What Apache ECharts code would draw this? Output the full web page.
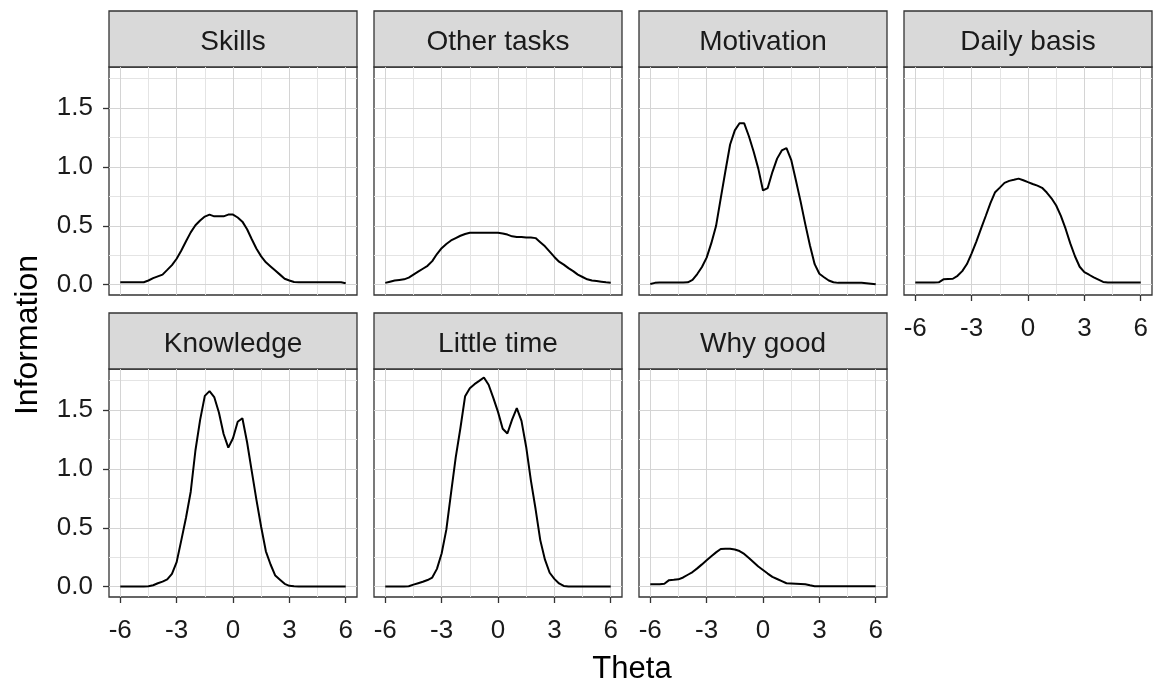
<!DOCTYPE html>
<html>
<head>
<meta charset="utf-8">
<title>Item information by theta</title>
<script src="https://cdn.jsdelivr.net/npm/echarts@6/dist/echarts.min.js"></script>
<style>
  html, body { margin: 0; padding: 0; background: #fff; }
  #chart { width: 1155px; height: 685px; }
</style>
</head>
<body>
<div id="chart"></div>
<script>
// theta grid shared by every panel
const theta = [
  -6, -5.75, -5.5, -5.25, -5, -4.75, -4.5, -4.25, -4, -3.75, -3.5, -3.25,
  -3, -2.75, -2.5, -2.25, -2, -1.75, -1.5, -1.25, -1, -0.75, -0.5, -0.25,
  0, 0.25, 0.5, 0.75, 1, 1.25, 1.5, 1.75, 2, 2.25, 2.5, 2.75,
  3, 3.25, 3.5, 3.75, 4, 4.25, 4.5, 4.75, 5, 5.25, 5.5, 5.75, 6,
]

const skills = [
  0.02, 0.02, 0.02, 0.02, 0.02, 0.02, 0.035, 0.055, 0.07, 0.085, 0.125, 0.166,
  0.22, 0.29, 0.368, 0.444, 0.504, 0.545, 0.578, 0.595, 0.58, 0.58, 0.58, 0.595,
  0.595, 0.57, 0.535, 0.47, 0.385, 0.305, 0.24, 0.19, 0.155, 0.12, 0.085, 0.05,
  0.035, 0.022, 0.02, 0.02, 0.02, 0.02, 0.02, 0.02, 0.02, 0.02, 0.02, 0.02, 0.012,
]
const otherTasks = [
  0.015, 0.025, 0.035, 0.04, 0.045, 0.06, 0.085, 0.11, 0.135, 0.16, 0.2, 0.26,
  0.31, 0.345, 0.375, 0.395, 0.415, 0.43, 0.44, 0.44, 0.44, 0.44, 0.44, 0.44,
  0.44, 0.435, 0.425, 0.41, 0.405, 0.405, 0.4, 0.4, 0.395, 0.36, 0.325, 0.28,
  0.235, 0.195, 0.17, 0.14, 0.115, 0.085, 0.065, 0.045, 0.035, 0.03, 0.025, 0.02, 0.017,
]
const motivation = [
  0.005, 0.015, 0.018, 0.018, 0.018, 0.018, 0.018, 0.018, 0.02, 0.04, 0.09, 0.15,
  0.229, 0.352, 0.497, 0.733, 0.965, 1.19, 1.31, 1.37, 1.37, 1.26, 1.13, 0.985,
  0.8, 0.82, 0.956, 1.07, 1.14, 1.16, 1.06, 0.886, 0.707, 0.514, 0.333, 0.174,
  0.092, 0.063, 0.035, 0.02, 0.015, 0.015, 0.015, 0.015, 0.015, 0.015, 0.012, 0.008, 0.003,
]
const dailyBasis = [
  0.018, 0.018, 0.018, 0.018, 0.018, 0.02, 0.045, 0.048, 0.05, 0.075, 0.115, 0.175,
  0.266, 0.366, 0.475, 0.583, 0.692, 0.785, 0.824, 0.864, 0.881, 0.89, 0.9, 0.886,
  0.87, 0.855, 0.841, 0.822, 0.782, 0.733, 0.672, 0.584, 0.475, 0.35, 0.241, 0.152,
  0.106, 0.084, 0.061, 0.042, 0.023, 0.018, 0.018, 0.018, 0.018, 0.018, 0.018, 0.018, 0.018,
]
const knowledge = [
  0.002, 0.002, 0.002, 0.002, 0.002, 0.002, 0.003, 0.012, 0.029, 0.043, 0.062, 0.109,
  0.208, 0.395, 0.587, 0.806, 1.156, 1.416, 1.62, 1.66, 1.61, 1.479, 1.296, 1.18,
  1.26, 1.4, 1.43, 1.226, 0.979, 0.735, 0.506, 0.3, 0.188, 0.094, 0.059, 0.024,
  0.007, 0.003, 0.002, 0.002, 0.002, 0.002, 0.002, 0.002, 0.002, 0.002, 0.002, 0.002, 0.002,
]
const littleTime = [
  0.002, 0.002, 0.002, 0.002, 0.002, 0.003, 0.017, 0.029, 0.041, 0.056, 0.077, 0.151,
  0.281, 0.484, 0.794, 1.097, 1.347, 1.617, 1.685, 1.719, 1.747, 1.776, 1.714, 1.603,
  1.484, 1.34, 1.3, 1.418, 1.516, 1.407, 1.186, 0.903, 0.659, 0.395, 0.229, 0.118,
  0.066, 0.027, 0.006, 0.002, 0.002, 0.002, 0.002, 0.002, 0.002, 0.002, 0.002, 0.002, 0.002,
]
const whyGood = [
  0.02, 0.02, 0.02, 0.025, 0.055, 0.058, 0.062, 0.078, 0.101, 0.124, 0.155, 0.189,
  0.224, 0.258, 0.291, 0.32, 0.322, 0.322, 0.315, 0.302, 0.278, 0.243, 0.207, 0.171,
  0.141, 0.111, 0.083, 0.065, 0.047, 0.029, 0.027, 0.025, 0.023, 0.021, 0.011, 0.004,
  0.004, 0.004, 0.004, 0.004, 0.004, 0.004, 0.004, 0.004, 0.004, 0.004, 0.004, 0.004, 0.004,
]

const panelNames = ['Skills', 'Other tasks', 'Motivation', 'Daily basis', 'Knowledge', 'Little time', 'Why good']
const panelValues = [skills, otherTasks, motivation, dailyBasis, knowledge, littleTime, whyGood]

const xTicks = [-6, -3, 0, 3, 6]
const xMinor = [-4.5, -1.5, 1.5, 4.5]
const yTicks = [0, 0.5, 1.0, 1.5]
const yMinor = [0.25, 0.75, 1.25, 1.75]

// layout (pixels)
const colLeft = [109, 374, 639, 904]
const rowTop = [11, 313]
const panelW = 248
const stripH = 56
const plotH = 228

const font = "'Liberation Sans', Arial, sans-serif"
const dark = '#333333'

const panelPos = i => {
  const row = i < 4 ? 0 : 1
  const col = i < 4 ? i : i - 4
  return { row, col, left: colLeft[col], top: rowTop[row] }
}

// x axis shown under the bottom row and under the lone panel at row 1 col 4
const hasXAxis = i => i >= 4 || i === 3
const hasYAxis = i => panelPos(i).col === 0

const majorLine = { color: '#d4d4d4', width: 1, type: 'solid' }
const minorLine = { color: '#e4e4e4', width: 1, type: 'solid' }

const gridLines = [
  ...xMinor.map(v => ({ xAxis: v, lineStyle: minorLine })),
  ...yMinor.map(v => ({ yAxis: v, lineStyle: minorLine })),
  ...xTicks.map(v => ({ xAxis: v, lineStyle: majorLine })),
  ...yTicks.map(v => ({ yAxis: v, lineStyle: majorLine })),
]

const chart = echarts.init(document.getElementById('chart'))

const grids = []
const xAxes = []
const yAxes = []
const series = []
const graphics = []

panelNames.forEach((name, i) => {
  const p = panelPos(i)
  grids.push({
    left: p.left,
    top: p.top + stripH,
    width: panelW,
    height: plotH,
    show: true,
    backgroundColor: '#fff',
    borderColor: dark,
    borderWidth: 1.3,
    containLabel: false,
    outerBoundsMode: 'none',
  })
  xAxes.push({
    gridIndex: i,
    type: 'value',
    position: 'bottom',
    min: -6.6,
    max: 6.6,
    axisLine: { show: false, onZero: false },
    axisTick: {
      show: hasXAxis(i),
      length: 6,
      customValues: xTicks,
      lineStyle: { color: dark, width: 1.3 },
    },
    axisLabel: {
      show: hasXAxis(i),
      customValues: xTicks,
      margin: 21,
      fontSize: 26,
      fontFamily: font,
      color: '#1a1a1a',
    },
    splitLine: { show: false },
  })
  yAxes.push({
    gridIndex: i,
    type: 'value',
    position: 'left',
    min: -0.088,
    max: 1.848,
    axisLine: { show: false, onZero: false },
    axisTick: {
      show: hasYAxis(i),
      length: 6,
      customValues: yTicks,
      lineStyle: { color: dark, width: 1.3 },
    },
    axisLabel: {
      show: hasYAxis(i),
      customValues: yTicks,
      margin: 16,
      fontSize: 26,
      fontFamily: font,
      color: '#1a1a1a',
      formatter: v => v.toFixed(1),
    },
    splitLine: { show: false },
  })
  series.push({
    name,
    type: 'line',
    xAxisIndex: i,
    yAxisIndex: i,
    data: theta.map((t, k) => [t, panelValues[i][k]]),
    showSymbol: false,
    silent: true,
    z: 3,
    lineStyle: { color: '#000', width: 2 },
    markLine: {
      silent: true,
      z: 1,
      symbol: ['none', 'none'],
      label: { show: false },
      animation: false,
      data: gridLines,
    },
  })
  // facet strip
  graphics.push({
    type: 'rect',
    shape: { x: p.left, y: p.top, width: panelW, height: stripH },
    style: { fill: '#d9d9d9', stroke: dark, lineWidth: 1.3 },
  })
  graphics.push({
    type: 'text',
    x: p.left + panelW / 2,
    y: p.top + stripH / 2 + 3,
    style: {
      text: name,
      fontSize: 28,
      fontFamily: font,
      fill: '#1a1a1a',
      align: 'center',
      verticalAlign: 'middle',
    },
  })
})

graphics.push({
  type: 'text',
  x: 28,
  y: 335,
  rotation: Math.PI / 2,
  style: {
    text: 'Information',
    fontSize: 32,
    fontFamily: font,
    fill: '#000',
    align: 'center',
    verticalAlign: 'middle',
  },
})
graphics.push({
  type: 'text',
  x: 632,
  y: 669,
  style: {
    text: 'Theta',
    fontSize: 31,
    fontFamily: font,
    fill: '#000',
    align: 'center',
    verticalAlign: 'middle',
  },
})

chart.setOption({
  backgroundColor: '#fff',
  animation: false,
  grid: grids,
  xAxis: xAxes,
  yAxis: yAxes,
  series,
  graphic: graphics,
})
</script>
</body>
</html>
